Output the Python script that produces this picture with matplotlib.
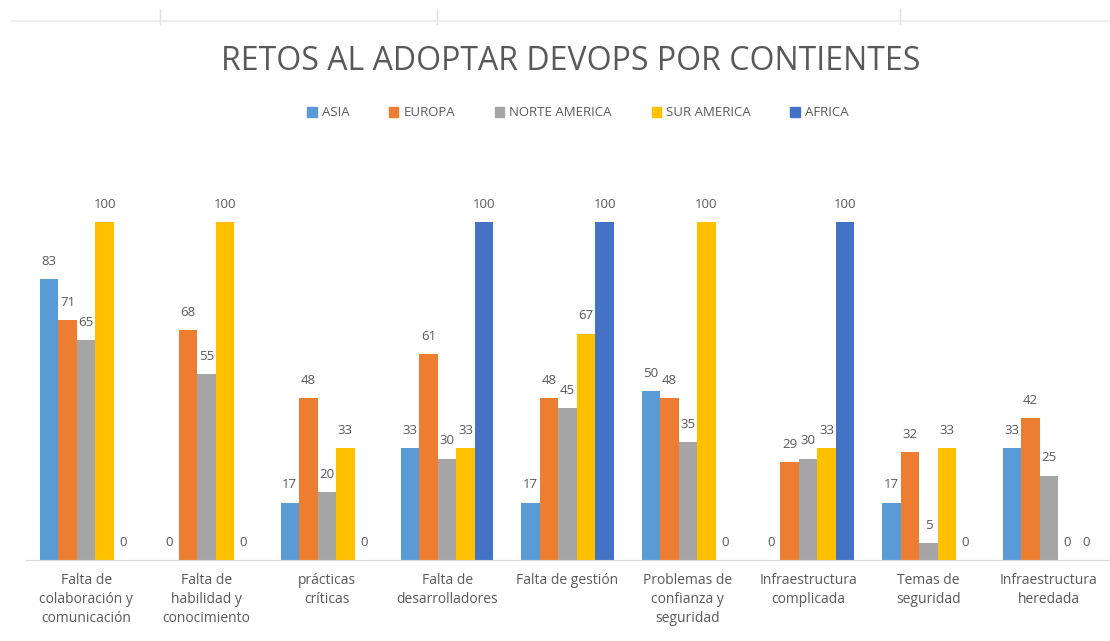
import numpy as np
import matplotlib
matplotlib.use('Agg')
import matplotlib.pyplot as plt
from matplotlib.lines import Line2D

# data
categories = ["Falta de\ncolaboración y\ncomunicación", "Falta de\nhabilidad y\nconocimiento",
              "prácticas\ncríticas", "Falta de\ndesarrolladores", "Falta de gestión",
              "Problemas de\nconfianza y\nseguridad", "Infraestructura\ncomplicada",
              "Temas de\nseguridad", "Infraestructura\nheredada"]
series_names = ["ASIA", "EUROPA", "NORTE AMERICA", "SUR AMERICA", "AFRICA"]
asia     = [83, 0, 17, 33, 17, 50, 0, 17, 33]
europa   = [71, 68, 48, 61, 48, 48, 29, 32, 42]
norte_am = [65, 55, 20, 30, 45, 35, 30, 5, 25]
sur_am   = [100, 100, 33, 33, 67, 100, 33, 33, 0]
africa   = [0, 0, 0, 100, 100, 0, 100, 0, 0]
colors = ["#5B9BD5", "#ED7D31", "#A5A5A5", "#FFC000", "#4472C4"]

all_series = [asia, europa, norte_am, sur_am, africa]
txt_color = "#595959"
plt.rcParams['font.family'] = ['Open Sans', 'DejaVu Sans']

fig = plt.figure(figsize=(11.10, 6.41), dpi=100)
ax = fig.add_axes([26 / 1110, 81 / 641, 1083 / 1110, 338 / 641])

x = np.arange(len(categories))
w = 0.154
for i, (vals, c) in enumerate(zip(all_series, colors)):
    pos = x + (i - 2) * w
    ax.bar(pos, vals, width=w, color=c, zorder=2)
    for p, v in zip(pos, vals):
        ax.annotate(str(v), (p, v), xytext=(0, 8), textcoords="offset points",
                    ha="center", va="bottom", fontsize=9.5, color=txt_color,
                    annotation_clip=False)

ax.set_xlim(-0.5, len(categories) - 0.5)
ax.set_ylim(0, 100)
ax.set_yticks([])
ax.set_xticks(x)
ax.set_xticklabels(categories, fontsize=10, color=txt_color, linespacing=1.4)
ax.tick_params(axis='x', length=0, pad=9)
for s in ["top", "right", "left"]:
    ax.spines[s].set_visible(False)
ax.spines["bottom"].set_color("#D9D9D9")

fig.text(571 / 1110, 1 - 62 / 641, "RETOS AL ADOPTAR DEVOPS POR CONTIENTES", ha="center",
         va="center", fontsize=23, color=txt_color)

handles = [plt.Rectangle((0, 0), 1, 1, color=c) for c in colors]
fig.legend(handles, series_names, loc="center", bbox_to_anchor=(578 / 1110, 1 - 113 / 641),
           ncol=5, frameon=False, fontsize=9.5, handlelength=0.7, handleheight=0.7,
           columnspacing=3.0, handletextpad=0.4, labelcolor=txt_color)

# faint table borders at the top of the screenshot
fig.add_artist(Line2D([12 / 1110, 1], [1 - 21 / 641] * 2, color="#EEEEEE", lw=1.5))
for xv in [160, 437, 900]:
    fig.add_artist(Line2D([xv / 1110] * 2, [1 - 9 / 641, 1 - 24 / 641], color="#E0E0E0", lw=1))

fig.savefig("out.png", dpi=100)
